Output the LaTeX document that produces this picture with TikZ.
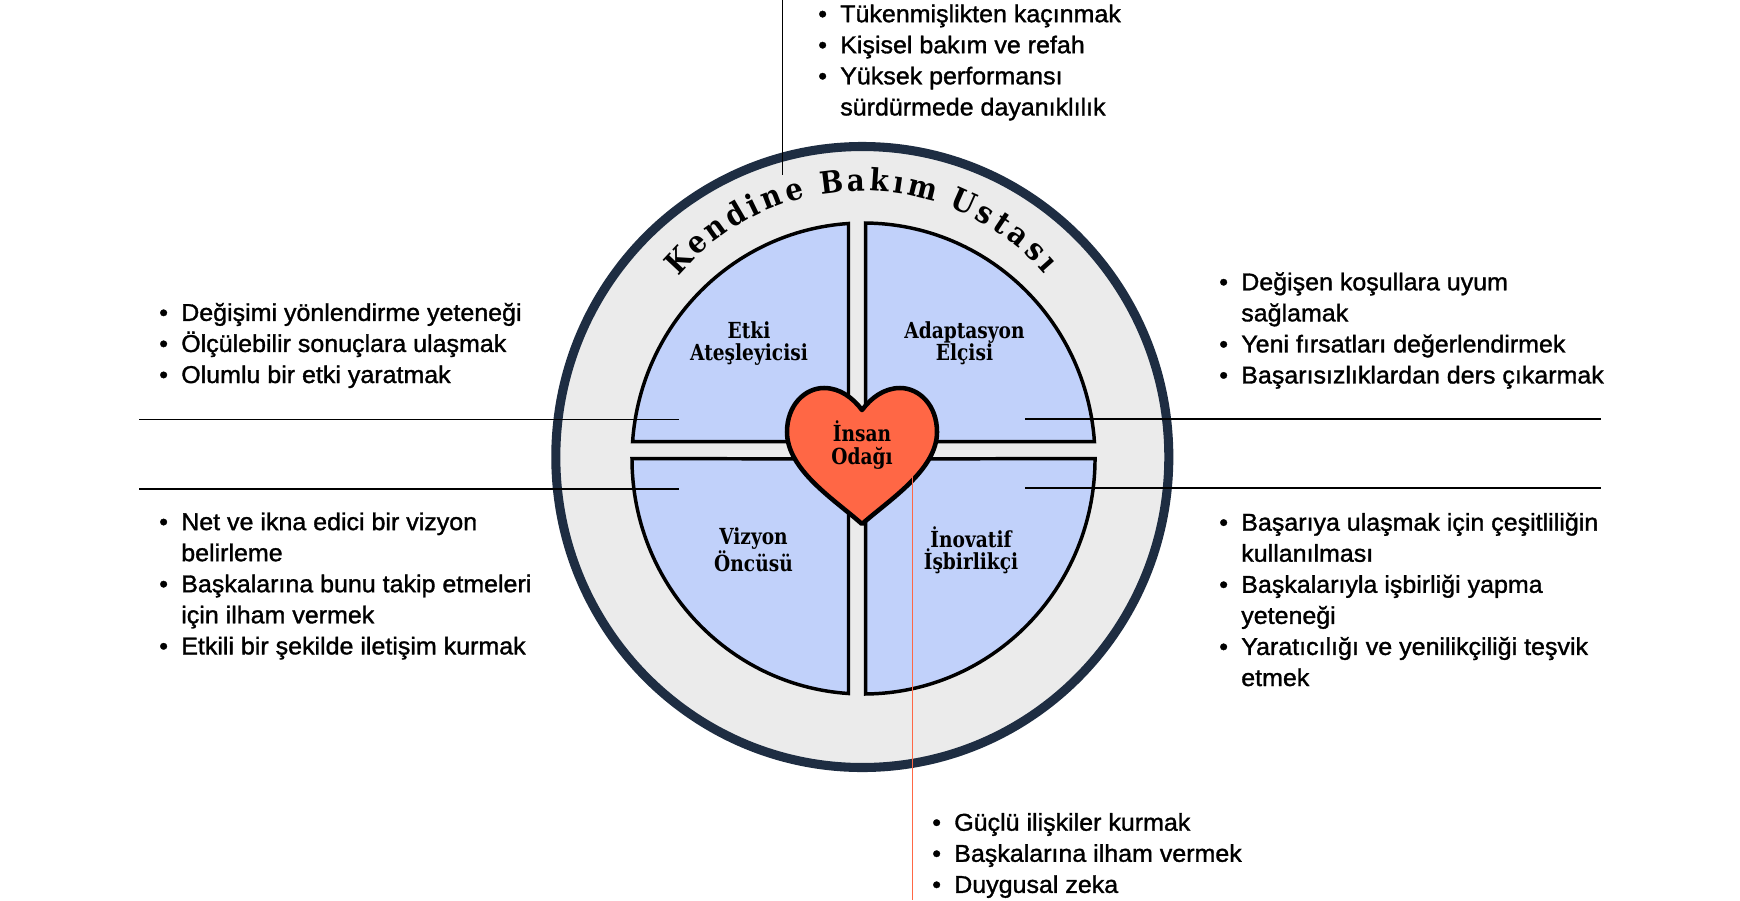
\documentclass[tikz,border=0pt]{standalone}
\usepackage{fontspec}
\usetikzlibrary{calc}
\setmainfont{Liberation Sans}
\newfontfamily\bodyf[FakeBold=1.3,FakeStretch=1.03]{Liberation Sans}
\newfontfamily\slabf[FakeStretch=0.84]{DejaVu Serif}
\newfontfamily\arcf[FakeStretch=0.9]{DejaVu Serif}
\newcommand{\itm}[1]{\makebox[16.5pt][l]{•}#1}
\newcommand{\cnt}[1]{\hspace*{16.5pt}#1}
\definecolor{quadc}{HTML}{C1D1FA}
\definecolor{heartc}{HTML}{FF6745}
\definecolor{ringc}{HTML}{1E2D42}
\definecolor{discc}{HTML}{EBEBEB}
\tikzset{
  listbox/.style={anchor=west,align=left,inner sep=0pt,font=\bodyf\fontsize{18.2pt}{23.3pt}\selectfont},
  quad/.style={draw=black,fill=quadc,line width=2.6pt,line join=miter},
  lab/.style={align=center,inner sep=0pt,font=\slabf\bfseries\fontsize{16.6pt}{16.6pt}\selectfont},
  lead/.style={draw=black,line width=1.1pt},
  salmon/.style={draw=heartc,line width=1.1pt},
  arcl/.style={inner sep=0pt,anchor=base,font=\arcf\bfseries\fontsize{23pt}{24pt}\selectfont}
}
\begin{document}
\begin{tikzpicture}[x=0.75pt,y=-0.75pt]
\useasboundingbox (0,0) rectangle (1740,900);
\coordinate (O) at (862.3,457);
\coordinate (A) at (862.3,432);
\path[draw=ringc,fill=discc,line width=6.8pt] (O) ellipse [x radius=306.5,y radius=310.5];
% quadrants
\path[quad] (848.5,441.7) -- (848.5,223.5) arc[start angle=266.29,end angle=184.09,x radius=231.5,y radius=235.5] -- cycle;
\path[quad] (865.7,441.7) -- (865.7,223.01) arc[start angle=270.54,end angle=355.91,x radius=231.5,y radius=235.5] -- cycle;
\path[quad] (848.5,459) -- (848.5,693.5) arc[start angle=93.71,end angle=180,x radius=231.5,y radius=235.5] -- cycle;
\path[quad] (865.7,459) -- (865.7,693.99) arc[start angle=89.46,end angle=0,x radius=231.5,y radius=235.5] -- cycle;
% heart
\path[draw=black,fill=heartc,line width=3.4pt,line join=round]
 (862,524) .. controls (835,500) and (787,470) .. (787,432)
 .. controls (787,405) and (805,388) .. (824,388)
 .. controls (840,388) and (853,398) .. (862,410)
 .. controls (871,398) and (884,388) .. (900,388)
 .. controls (919,388) and (937,405) .. (937,432)
 .. controls (937,470) and (889,500) .. (862,524) -- cycle;
% labels
\node[lab] (etki) at (749,343.5) {Etki\\Ateşleyicisi};
\node[lab] (adap) at (964.5,343.5) {Adaptasyon\\Elçisi};
\node[lab] (vizy) at (753.5,550) {Vizyon\\Öncüsü};
\node[lab] (inov) at (971,550) {İnovatif\\İşbirlikçi};
\node[lab] (insn) at (862,445) {İnsan\\Odağı};
% arc title
\foreach \c/\a [count=\i] in {K/-46.9,e/-41.3,n/-35.9,d/-30.3,i/-25.8,n/-21.2,e/-15.8,B/-7,a/-1.4,k/3.9,ı/8.4,m/13.9,U/23.9,s/29.4,t/33.9,a/38.5,s/43.7,ı/48}
  \node[arcl,rotate=-\a] (arc\i) at ($(A)+({241*sin(\a)},{-241*cos(\a)})$) {\c};
% leader coordinates
\coordinate (l1a) at (139,419.5); \coordinate (l1b) at (679,419.5);
\coordinate (l2a) at (139,489);   \coordinate (l2b) at (679,489);
\coordinate (r1a) at (1025,419); \coordinate (r1b) at (1601,419);
\coordinate (r2a) at (1025,488); \coordinate (r2b) at (1601,488);
\coordinate (ta) at (782.5,0); \coordinate (tb) at (782.5,175);
\coordinate (sa) at (912.5,438); \coordinate (sb) at (912.5,900);
\draw[lead] (l1a)--(l1b); \draw[lead] (l2a)--(l2b);
\draw[lead] (r1a)--(r1b); \draw[lead] (r2a)--(r2b);
\draw[lead] (ta)--(tb);
\draw[salmon] (sa)--(sb);
% lists
\node[listbox] (top) at (818,62.5) {\itm{Tükenmişlikten kaçınmak}\\\itm{Kişisel bakım ve refah}\\\itm{Yüksek performansı}\\\cnt{sürdürmede dayanıklılık}};
\node[listbox] (lft1) at (159,345.5) {\itm{Değişimi yönlendirme yeteneği}\\\itm{Ölçülebilir sonuçlara ulaşmak}\\\itm{Olumlu bir etki yaratmak}};
\node[listbox] (lft2) at (159,586) {\itm{Net ve ikna edici bir vizyon}\\\cnt{belirleme}\\\itm{Başkalarına bunu takip etmeleri}\\\cnt{için ilham vermek}\\\itm{Etkili bir şekilde iletişim kurmak}};
\node[listbox] (rgt1) at (1219,330.5) {\itm{Değişen koşullara uyum}\\\cnt{sağlamak}\\\itm{Yeni fırsatları değerlendirmek}\\\itm{Başarısızlıklardan ders çıkarmak}};
\node[listbox] (rgt2) at (1219,599.5) {\itm{Başarıya ulaşmak için çeşitliliğin}\\\cnt{kullanılması}\\\itm{Başkalarıyla işbirliği yapma}\\\cnt{yeteneği}\\\itm{Yaratıcılığı ve yenilikçiliği teşvik}\\\cnt{etmek}};
\node[listbox] (bot) at (932,855.5) {\itm{Güçlü ilişkiler kurmak}\\\itm{Başkalarına ilham vermek}\\\itm{Duygusal zeka}};
\end{tikzpicture}
\end{document}
